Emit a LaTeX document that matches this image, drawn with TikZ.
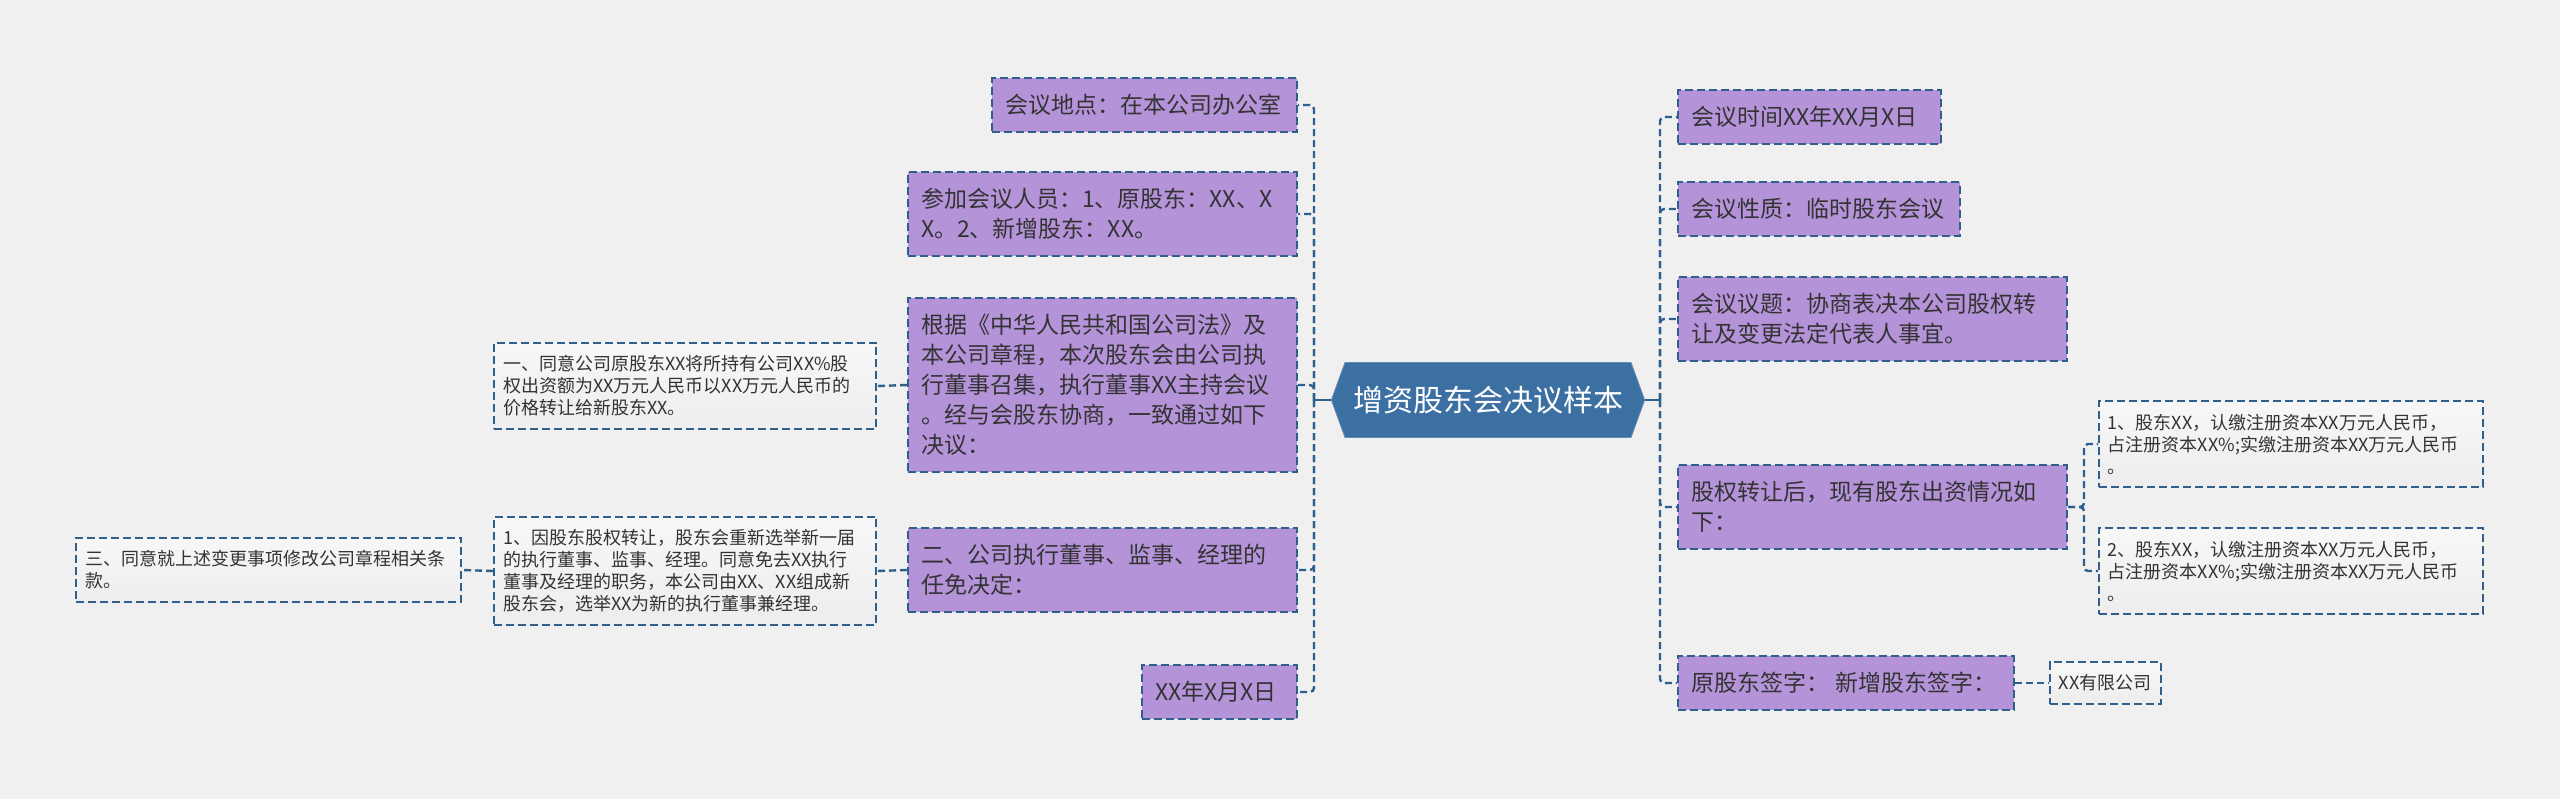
\documentclass[tikz,border=0pt]{standalone}
\usepackage{fontspec}
\setmainfont{Noto Sans CJK SC}
\usepackage{tikz}
\usetikzlibrary{shapes.symbols}
\definecolor{bgc}{HTML}{F0F0F0}
\definecolor{lnc}{HTML}{2F5F8C}
\definecolor{purp}{HTML}{B493D9}
\definecolor{hubc}{HTML}{3C6FA2}
\definecolor{txc}{HTML}{333333}
\tikzstyle{root}=[signal, signal to=west and east, signal pointer angle=140, fill=hubc, draw=hubc!80!white, text=white, font=\fontsize{15pt}{18pt}\selectfont, minimum height=37.5pt, minimum width=156.5pt, inner xsep=4pt]
\tikzstyle{topic}=[draw=lnc, line width=1pt, dash pattern=on 4pt off 2pt, fill=purp, text=txc, font=\fontsize{11.5pt}{15pt}\selectfont, align=left, inner xsep=6.5pt, inner ysep=8pt]
\tikzstyle{sub}=[draw=lnc, line width=0.9pt, dash pattern=on 4pt off 2pt, top color=gray!6, bottom color=gray!14, text=txc, font=\fontsize{9pt}{11pt}\selectfont, align=left, inner xsep=4.5pt, inner ysep=6.4pt]
\tikzstyle{link}=[draw=lnc, line width=1.2pt, dash pattern=on 3.5pt off 2pt, rounded corners=2pt]
\tikzstyle{elbow}=[to path={|- (\tikztotarget)}]
\tikzstyle{branch}=[to path={-- ++(16,0) |- (\tikztotarget)}]

\begin{document}
\begin{tikzpicture}[x=0.5pt, y=-0.5pt]
    \useasboundingbox [fill=bgc] (0,0) rectangle (2560,799);
    \node [root] (root) at (1488,400) {增资股东会决议样本};
    \coordinate (lhub) at (1314,400);
    \coordinate (rhub) at (1660,400);

    % left side
    \node [topic, text width=139.5pt, anchor=east] (place)   at (1298,105) {会议地点：在本公司办公室};
    \node [topic, text width=181.5pt, anchor=east] (attend)  at (1298,214) {参加会议人员：1、原股东：XX、X\\X。2、新增股东：XX。};
    \node [topic, text width=181.5pt, anchor=east] (basis)   at (1298,385) {根据《中华人民共和国公司法》及\\本公司章程，本次股东会由公司执\\行董事召集，执行董事XX主持会议\\。经与会股东协商，一致通过如下\\决议：};
    \node [topic, text width=181.5pt, anchor=east] (appoint) at (1298,570) {二、公司执行董事、监事、经理的\\任免决定：};
    \node [topic, text width=64.5pt, anchor=east]  (date)    at (1298,692) {XX年X月X日};

    \node [sub, text width=182pt, anchor=east]   (transfer) at (877,386) {一、同意公司原股东XX将所持有公司XX\%股\\权出资额为XX万元人民币以XX万元人民币的\\价格转让给新股东XX。};
    \node [sub, text width=182pt, anchor=east]   (reelect)  at (877,571) {1、因股东股权转让，股东会重新选举新一届\\的执行董事、监事、经理。同意免去XX执行\\董事及经理的职务，本公司由XX、XX组成新\\股东会，选举XX为新的执行董事兼经理。};
    \node [sub, text width=183.5pt, anchor=east] (charter)  at (462,570) {三、同意就上述变更事项修改公司章程相关条\\款。};

    % right side
    \node [topic, text width=118.5pt, anchor=west] (time)    at (1677,117) {会议时间XX年XX月X日};
    \node [topic, text width=128pt, anchor=west]   (nature)  at (1677,209) {会议性质：临时股东会议};
    \node [topic, text width=181.5pt, anchor=west] (agenda)  at (1677,319) {会议议题：协商表决本公司股权转\\让及变更法定代表人事宜。};
    \node [topic, text width=181.5pt, anchor=west] (holding) at (1677,507) {股权转让后，现有股东出资情况如\\下：};
    \node [topic, text width=155pt, anchor=west]   (sign)    at (1677,683) {\mbox{原股东签字：\hspace{0.3em}新增股东签字：}};

    \node [sub, text width=183pt, anchor=west]  (shareA)  at (2098,444) {1、股东XX，认缴注册资本XX万元人民币，\\占注册资本XX\%;实缴注册资本XX万元人民币\\。};
    \node [sub, text width=183pt, anchor=west]  (shareB)  at (2098,571) {2、股东XX，认缴注册资本XX万元人民币，\\占注册资本XX\%;实缴注册资本XX万元人民币\\。};
    \node [sub, text width=46.5pt, anchor=west] (company) at (2049,683) {XX有限公司};

    \draw [lnc, line width=1.2pt] (root.west) -- (lhub);
    \draw [lnc, line width=1.2pt] (root.east) -- (rhub);
    \path [link] (lhub) edge [elbow] (place.east)
                        edge [elbow] (attend.east)
                        edge [elbow] (basis.east)
                        edge [elbow] (appoint.east)
                        edge [elbow] (date.east);
    \path [link] (rhub) edge [elbow] (time.west)
                        edge [elbow] (nature.west)
                        edge [elbow] (agenda.west)
                        edge [elbow] (holding.west)
                        edge [elbow] (sign.west);
    \path [link] (basis.west) edge (transfer.east)
                 (appoint.west) edge (reelect.east)
                 (reelect.west) edge (charter.east)
                 (sign.east) edge (company.west);
    \path [link] (holding.east) edge [branch] (shareA.west)
                                edge [branch] (shareB.west);
\end{tikzpicture}
\end{document}
